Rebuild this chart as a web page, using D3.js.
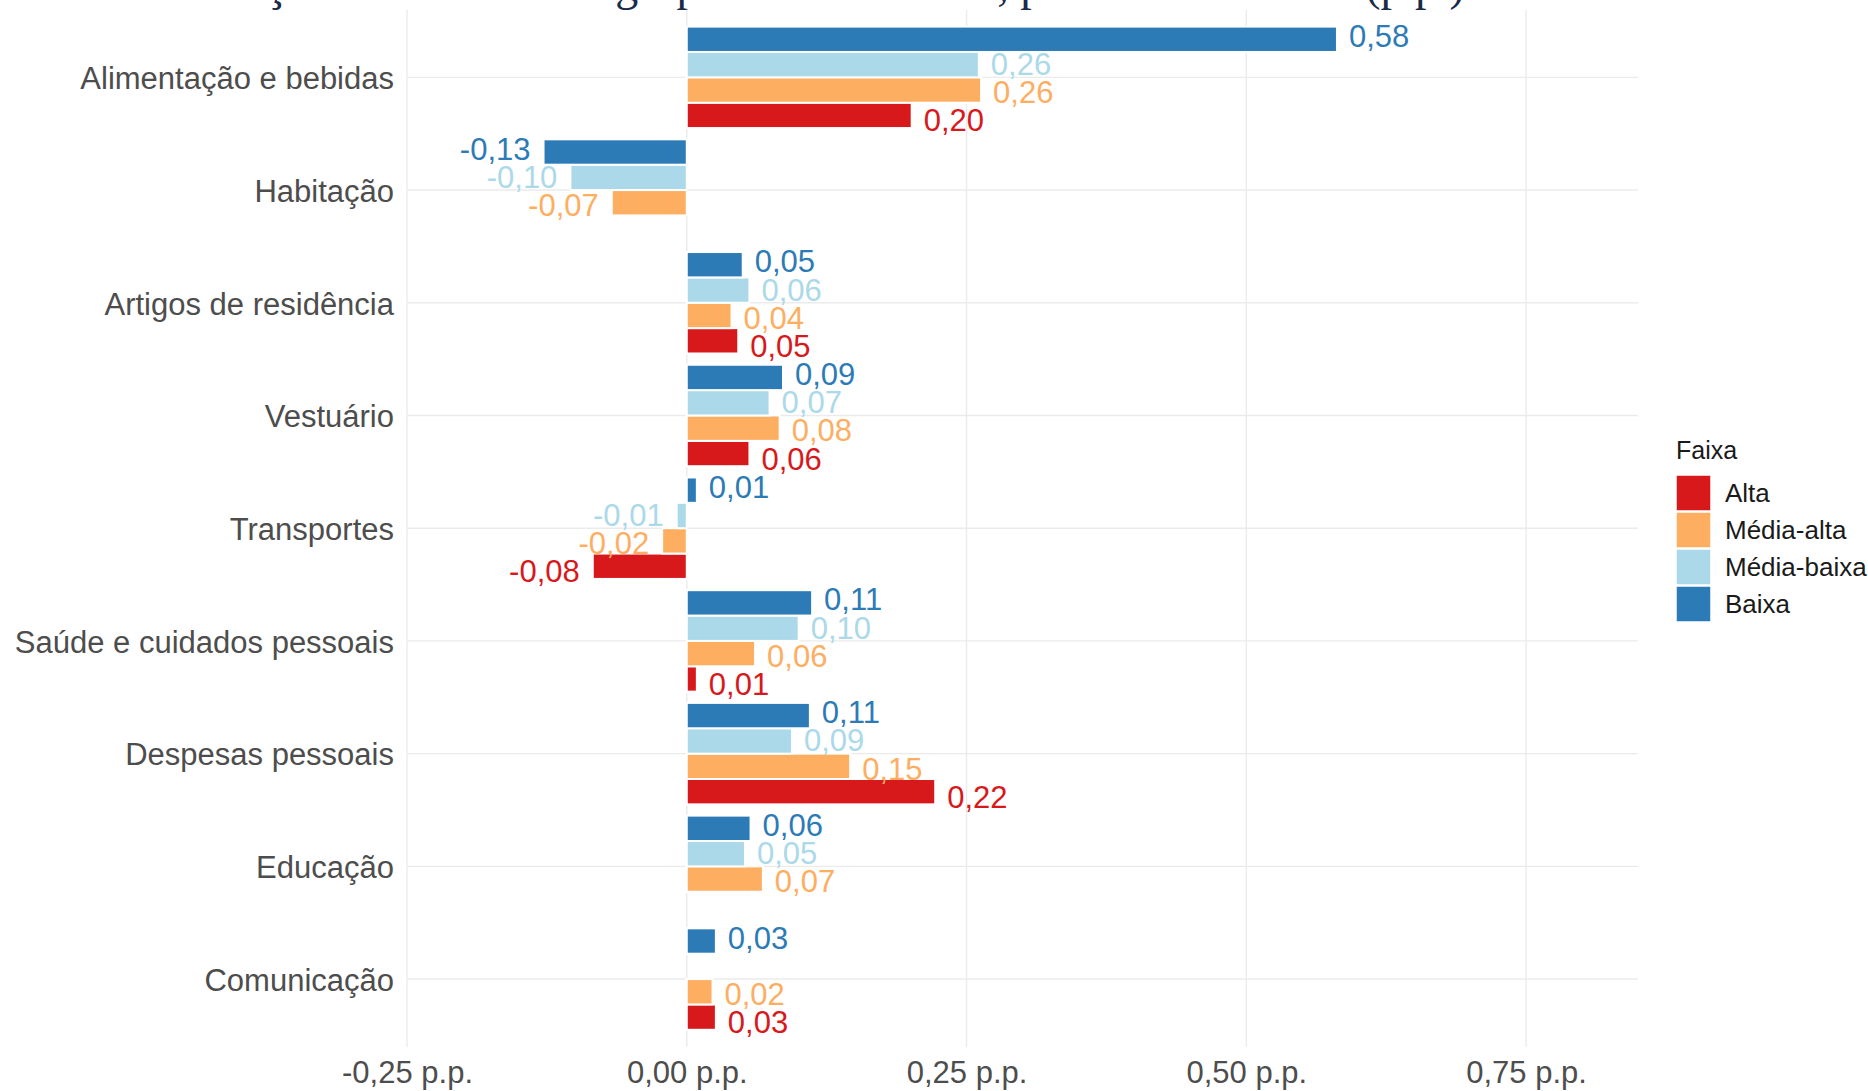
<!DOCTYPE html>
<html>
<head>
<meta charset="utf-8">
<script src="https://cdn.jsdelivr.net/npm/d3@7"></script>
<style>
  body { margin: 0; background: #fff; }
  svg { display: block; }
  text { font-family: "Liberation Sans", Arial, sans-serif; }
</style>
</head>
<body>
<div id="chart"></div>
<script>
var categories = [
  "Alimentação e bebidas",
  "Habitação",
  "Artigos de residência",
  "Vestuário",
  "Transportes",
  "Saúde e cuidados pessoais",
  "Despesas pessoais",
  "Educação",
  "Comunicação",
];
// legend order (top to bottom)
var series = ["Alta", "Média-alta", "Média-baixa", "Baixa"];
var colors = ["#d7191c", "#fdae61", "#abd9e9", "#2c7bb6"];

var alta = [0.201, null, 0.046, 0.056, -0.084, 0.009, 0.222, null, 0.026];
var mediaAlta = [0.263, -0.067, 0.04, 0.083, -0.022, 0.061, 0.146, 0.068, 0.023];
var mediaBaixa = [0.261, -0.104, 0.056, 0.074, -0.009, 0.1, 0.094, 0.052, null];
var baixa = [0.581, -0.128, 0.05, 0.086, 0.009, 0.112, 0.11, 0.057, 0.026];

var xTicks = [-0.25, 0, 0.25, 0.5, 0.75];
var legendTitle = "Faixa";
var title = "Contribuição média de cada grupo no IPCA 2021, por faixa de renda (p.p.)";

var values = [alta, mediaAlta, mediaBaixa, baixa];

var width = 1868,
  height = 1091;
var panel = { left: 407, right: 1638, top: 9.7, bottom: 1046.7 };

var locale = d3.formatLocale({
  decimal: ",",
  thousands: ".",
  grouping: [3],
  currency: ["R$", ""],
  minus: "-",
});
var fmt = locale.format(".2f");

var svg = d3
  .select("#chart")
  .append("svg")
  .attr("width", width)
  .attr("height", height);

var x = d3
  .scaleLinear()
  .domain([-0.25, 0.85])
  .range([panel.left, panel.right]);

var y = d3
  .scaleBand()
  .domain(categories)
  .range([panel.top, panel.bottom])
  .paddingOuter(0.1)
  .paddingInner(0);

var step = y.step();
// bars top to bottom: Baixa, Média-baixa, Média-alta, Alta
var barOrder = series.slice().reverse();
var yBar = d3
  .scaleBand()
  .domain(barOrder)
  .range([step * 0.05, step * 0.95]);
var yLabel = d3.scaleBand().domain(barOrder).range([0, step]);

// title, cut off at the top like the original
svg
  .append("text")
  .attr("x", 89)
  .attr("y", 0)
  .style("font-family", '"Liberation Serif", "DejaVu Serif", serif')
  .style("font-size", "46px")
  .attr("fill", "#1b2a48")
  .text(title);

// grid
svg
  .append("g")
  .selectAll("line")
  .data(xTicks)
  .enter()
  .append("line")
  .attr("x1", (d) => x(d))
  .attr("x2", (d) => x(d))
  .attr("y1", panel.top)
  .attr("y2", panel.bottom)
  .attr("stroke", "#ebebeb")
  .attr("stroke-width", 1.4);

svg
  .append("g")
  .selectAll("line")
  .data(categories)
  .enter()
  .append("line")
  .attr("x1", panel.left)
  .attr("x2", panel.right)
  .attr("y1", (d) => y(d) + step / 2)
  .attr("y2", (d) => y(d) + step / 2)
  .attr("stroke", "#ebebeb")
  .attr("stroke-width", 1.4);

var rows = [];
categories.forEach(function (c, i) {
  series.forEach(function (s, j) {
    var v = values[j][i];
    if (v === null) return;
    rows.push({ category: c, serie: s, value: v, color: colors[j] });
  });
});

svg
  .append("g")
  .selectAll("rect")
  .data(rows)
  .enter()
  .append("rect")
  .attr("x", (d) => x(Math.min(0, d.value)))
  .attr("width", (d) => Math.abs(x(d.value) - x(0)))
  .attr("y", (d) => y(d.category) + yBar(d.serie))
  .attr("height", yBar.bandwidth())
  .attr("fill", (d) => d.color)
  .attr("stroke", "#fff")
  .attr("stroke-width", 2);

svg
  .append("g")
  .selectAll("text")
  .data(rows)
  .enter()
  .append("text")
  .attr("x", (d) => (d.value >= 0 ? x(d.value) + 12 : x(d.value) - 13))
  .attr("y", (d) => y(d.category) + yLabel(d.serie) + yLabel.bandwidth() / 2 + 1)
  .attr("dy", "0.35em")
  .attr("text-anchor", (d) => (d.value >= 0 ? "start" : "end"))
  .style("font-size", "31px")
  .attr("fill", (d) => d.color)
  .text((d) => fmt(d.value));

// axes
var xAxis = svg
  .append("g")
  .attr("transform", "translate(0," + panel.bottom + ")")
  .call(
    d3
      .axisBottom(x)
      .tickValues(xTicks)
      .tickSize(0)
      .tickPadding(14)
      .tickFormat((d) => fmt(d) + " p.p."),
  );
xAxis.select(".domain").remove();
xAxis
  .selectAll("text")
  .style("font-size", "31px")
  .style("font-family", '"Liberation Sans", Arial, sans-serif')
  .attr("fill", "#4d4d4d");

var yAxis = svg
  .append("g")
  .attr("transform", "translate(" + panel.left + ",0)")
  .call(d3.axisLeft(y).tickSize(0).tickPadding(13));
yAxis.select(".domain").remove();
yAxis
  .selectAll("text")
  .attr("dy", "0.38em")
  .style("font-size", "31px")
  .style("font-family", '"Liberation Sans", Arial, sans-serif')
  .attr("fill", "#4d4d4d");

// legend
var legend = svg.append("g").attr("transform", "translate(1676,0)");
legend
  .append("text")
  .attr("x", 0)
  .attr("y", 459)
  .style("font-size", "25px")
  .attr("fill", "#1a1a1a")
  .text(legendTitle);

var item = legend
  .selectAll("g.item")
  .data(series)
  .enter()
  .append("g")
  .attr("class", "item")
  .attr("transform", (d, i) => "translate(0," + (475 + i * 37) + ")");
item
  .append("rect")
  .attr("width", 35)
  .attr("height", 36)
  .attr("fill", (d, i) => colors[i])
  .attr("stroke", "#fff")
  .attr("stroke-width", 1.5);
item
  .append("text")
  .attr("x", 49)
  .attr("y", 18)
  .attr("dy", "0.36em")
  .style("font-size", "26px")
  .attr("fill", "#1a1a1a")
  .text((d) => d);
</script>
</body>
</html>
